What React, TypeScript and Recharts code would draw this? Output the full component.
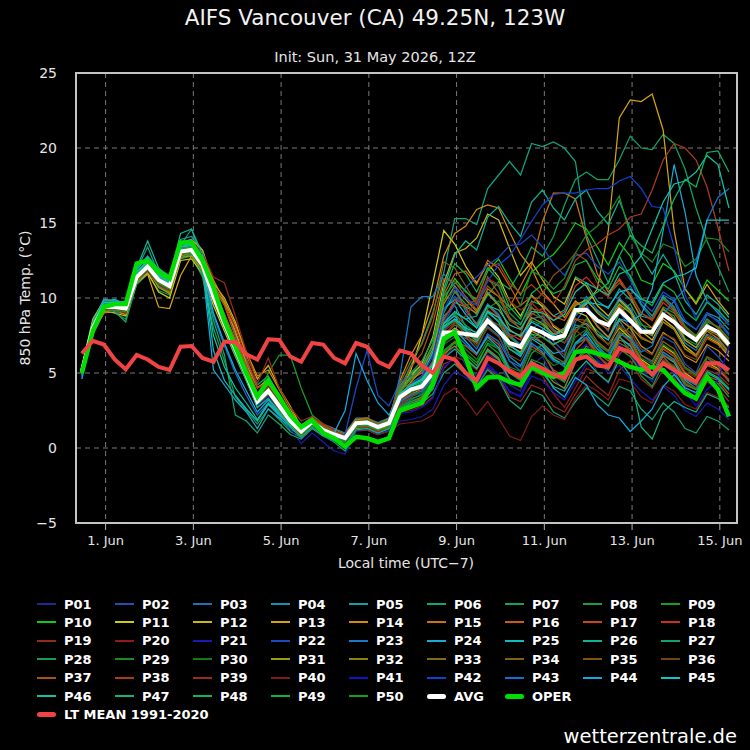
import React from "react";
import { LineChart, Line, XAxis, YAxis, CartesianGrid, ReferenceArea } from "recharts";

// first step is 31 May 11:00 local, then every 6 h (hours since 31 May 00:00 local)
const START_HOUR = 11;
const STEP_HOURS = 6;
const TICK_DAYS = [1, 3, 5, 7, 9, 11, 13, 15];
const Y_TICKS = [-5, 0, 5, 10, 15, 20, 25];

const AVG = [5.1,8.0,9.4,9.4,9.3,11.4,12.1,11.2,10.8,13.1, 13.2,12.2,10.1,8.3,6.6,4.9,3.1,3.8,2.8,1.8, 1.1,1.75,1.2,0.9,0.65,1.65,1.7,1.4,1.65,3.4, 3.9,4.1,5.0,7.7,7.7,7.6,7.5,8.5,7.8,7.0, 6.75,8.0,7.7,7.3,7.5,9.2,9.2,8.5,8.2,9.2, 8.5,7.75,7.75,8.9,8.4,7.7,7.2,8.1,7.75,6.9];
const OPER = [5.0,7.8,9.4,9.6,9.6,12.3,12.5,11.75,11.3,13.7, 13.7,12.5,10.7,8.5,6.75,5.0,3.4,4.5,3.4,2.2, 1.4,1.85,1.0,0.65,0.1,0.75,0.65,0.4,0.65,2.5, 2.75,3.0,4.3,7.3,7.7,6.0,4.0,4.7,4.75,4.4, 4.2,5.4,5.0,4.75,5.0,6.4,6.5,6.3,6.1,5.75, 5.4,5.2,5.4,5.2,4.4,3.65,3.3,4.75,3.9,2.1];
const LT_MEAN = [6.3,7.15,6.9,5.9,5.25,6.2,5.9,5.4,5.2,6.75, 6.8,6.0,5.75,7.1,7.05,6.25,5.9,7.25,7.2,6.1, 5.75,7.0,6.9,6.0,5.65,7.0,6.75,5.75,5.4,6.5, 6.3,5.5,5.0,6.1,5.9,5.0,4.5,6.0,5.65,5.1, 4.75,5.65,5.3,4.9,4.65,5.9,6.1,5.5,5.4,6.65, 6.4,5.65,4.9,5.65,5.2,4.75,4.4,5.65,5.65,5.2];

const P01 = [5.0,7.9,9.6,9.5,9.0,11.2,12.3,11.0,10.5,13.0, 13.4,12.0,9.8,8.0,6.2,4.5,2.8,3.5,2.6,1.5, 0.8,1.6,1.0,0.7,0.4,1.5,1.6,1.2,1.8,3.0, 3.5,3.9,4.6,6.0,6.8,5.5,4.8,6.2,5.9,4.2, 3.8,5.5,6.1,4.6,3.9,5.8,6.6,5.0,4.3,6.2, 7.0,5.1,4.4,6.3,5.8,4.1,3.6,5.2,4.9,3.8];
const P02 = [4.7,8.1,9.8,9.7,9.2,11.6,12.4,11.4,10.9,13.4, 13.6,12.5,10.4,8.6,6.9,5.0,3.3,3.9,3.0,2.0, 1.3,2.0,1.4,1.0,0.8,1.9,1.9,1.6,1.9,3.8, 4.6,5.1,6.5,9.2,10.1,9.4,8.1,9.6,8.8,7.0, 6.2,7.9,8.5,7.1,6.4,8.8,9.6,8.2,7.3,9.1, 8.0,6.2,5.7,7.4,7.0,5.6,5.0,6.8,6.1,5.2];
const P03 = [5.2,8.3,9.5,9.2,9.4,11.3,11.9,11.1,10.6,12.9, 13.0,11.8,8.8,6.8,5.0,3.5,2.2,3.0,2.1,1.2, 1.0,1.7,1.1,0.8,0.5,1.6,1.8,1.3,1.5,2.8, 3.2,3.6,4.4,7.9,8.6,7.4,6.6,8.1,7.5,5.8, 5.1,7.2,7.9,6.8,6.0,8.4,9.4,8.6,7.8,10.1, 10.8,9.5,8.6,10.2,9.8,8.1,7.4,8.9,8.5,7.6];
const P04 = [4.9,8.0,9.3,9.6,9.5,11.5,12.2,11.3,10.9,13.2, 13.3,12.4,10.6,8.9,7.1,5.4,3.6,4.2,3.2,2.2, 1.5,2.1,1.6,1.3,1.0,2.0,2.0,1.7,2.0,4.2, 5.0,5.5,6.8,8.8,9.5,8.1,7.2,8.8,8.0,6.1, 5.5,7.0,6.4,5.1,4.4,6.9,7.8,6.9,6.4,8.5, 7.4,5.8,5.0,6.4,5.9,4.6,4.2,6.0,5.5,4.4];
const P05 = [5.3,8.4,9.9,9.8,9.6,12.0,12.8,11.9,11.5,13.9, 14.1,13.2,10.8,9.7,7.6,5.8,4.2,4.8,3.5,2.3, 1.2,1.9,1.3,1.0,0.7,1.8,1.8,1.5,1.7,3.5, 4.0,4.3,5.3,8.4,9.0,8.6,8.8,10.4,9.6,8.6, 8.2,9.8,9.5,8.8,9.2,11.4,11.0,9.8,9.3,10.6, 9.9,8.8,8.6,10.0,9.2,8.4,7.9,9.0,8.7,7.9];
const P06 = [5.0,8.2,9.6,9.8,9.7,11.9,13.4,11.6,11.0,13.5, 14.6,12.6,10.3,8.5,6.7,5.0,3.2,3.9,2.9,1.9, 1.2,1.8,1.3,1.0,0.8,1.7,1.8,1.5,2.0,4.0, 5.5,7.0,9.0,11.7,15.3,15.3,14.9,17.3,18.2,19.1, 18.2,20.3,20.1,20.4,20.0,19.1,14.2,12.6,11.0,12.8, 11.4,9.6,8.8,10.1,9.4,8.0,7.4,8.6,8.0,7.1];
const P07 = [5.1,7.8,9.2,9.3,9.0,11.2,12.0,11.0,10.7,13.0, 13.1,12.0,9.9,8.1,6.4,4.8,3.0,3.7,2.7,1.7, 1.0,1.6,1.1,0.8,0.6,1.6,1.6,1.3,1.6,3.3, 4.1,4.6,5.8,9.0,10.4,9.6,8.9,10.2,11.1,10.6, 11.8,13.4,12.8,14.1,16.2,17.9,18.4,17.9,17.9,19.2, 20.8,20.0,19.9,20.9,20.3,18.6,16.0,13.8,12.1,10.4];
const P08 = [4.8,7.7,9.1,9.0,8.6,10.9,11.6,10.5,10.2,12.6, 12.8,11.4,8.0,5.8,3.4,2.5,1.6,2.6,1.9,1.1, 0.7,1.3,0.8,0.5,0.3,1.3,1.4,1.0,1.3,2.9, 3.3,3.5,4.2,6.5,7.1,6.2,5.5,7.0,6.6,5.0, 4.6,6.3,6.9,6.0,5.4,7.7,8.6,7.8,7.2,9.0, 9.6,8.3,7.5,9.2,8.8,7.3,6.9,8.3,7.6,6.8];
const P09 = [5.1,8.1,9.5,9.4,9.3,11.6,12.2,11.3,10.9,13.3, 13.4,12.3,10.5,8.9,7.0,5.2,3.5,5.0,6.2,6.2, 4.0,2.2,1.6,1.2,0.9,1.9,2.0,1.6,1.9,3.9, 4.3,4.5,5.6,8.1,8.9,8.2,7.6,9.0,8.5,7.4, 6.8,8.5,8.2,7.6,7.9,9.6,9.8,9.1,8.6,9.8, 9.1,8.2,8.0,9.4,9.0,8.1,7.5,8.4,8.1,7.3];
const P10 = [5.0,7.9,9.3,9.5,9.4,11.8,12.4,11.5,11.1,13.5, 13.6,12.4,10.2,8.4,6.6,4.9,3.2,3.9,2.9,1.9, 1.3,1.9,1.3,1.0,0.7,1.7,1.7,1.4,1.7,3.6, 4.1,4.4,5.5,9.8,11.3,10.4,9.9,11.8,12.6,11.3, 10.2,11.7,12.4,12.9,13.8,15.0,14.6,13.4,12.2,13.7, 12.8,11.2,10.9,12.3,11.8,10.6,9.7,11.2,10.5,9.8];
const P11 = [4.9,8.0,9.2,9.0,8.8,11.0,11.7,10.4,10.0,12.5, 12.6,11.6,9.5,7.8,6.1,4.5,2.8,3.4,2.4,1.5, 0.8,1.5,0.9,0.6,0.4,1.4,1.5,1.1,1.4,3.6, 5.2,7.5,11.0,14.5,13.6,12.1,11.0,12.3,11.4,9.8, 8.8,10.2,9.4,8.1,7.6,9.1,8.8,7.6,6.9,8.0, 7.3,5.9,5.4,6.8,6.3,5.0,4.5,5.7,5.3,4.5];
const P12 = [5.4,8.6,9.8,9.7,9.5,11.7,12.5,11.6,11.2,13.7, 13.9,13.2,11.0,10.0,8.4,6.2,4.6,5.5,4.0,2.8, 1.4,2.0,1.5,1.2,0.9,1.9,1.9,1.6,1.8,3.7, 4.8,5.6,7.4,11.0,13.0,13.3,14.0,15.6,15.2,13.3, 11.5,12.4,11.2,10.1,9.6,11.3,10.8,9.5,8.8,9.9, 9.2,7.8,7.2,8.6,8.0,6.8,6.2,7.4,7.0,6.1];
const P13 = [5.0,7.6,9.0,9.1,8.9,11.0,11.6,9.4,9.3,11.5, 12.8,12.3,10.9,9.6,7.8,5.6,4.0,4.6,3.4,2.2, 1.1,1.7,1.2,0.9,0.6,1.6,1.6,1.3,1.5,3.1, 3.6,3.9,4.8,7.4,8.0,7.5,7.0,8.3,7.9,6.8, 6.4,7.8,7.4,6.9,7.3,9.0,9.6,10.6,14.5,22.0, 23.2,23.1,23.6,21.2,14.5,10.6,9.6,10.9,9.8,8.9];
const P14 = [5.2,8.2,9.4,9.3,9.1,11.3,12.0,11.2,10.6,13.0, 13.1,12.8,11.2,9.8,8.2,6.4,4.8,5.2,3.9,2.6, 1.3,1.9,1.4,1.1,0.9,1.8,1.9,1.6,1.9,4.5, 6.2,7.5,9.6,12.8,14.3,14.8,15.9,16.2,16.0,14.4, 12.9,12.0,10.4,9.6,8.7,9.8,9.2,8.1,7.4,8.6, 8.0,6.8,6.3,7.7,7.2,6.1,5.7,6.9,6.5,5.8];
const P15 = [4.8,7.7,9.0,9.2,9.1,11.2,11.8,10.9,10.6,13.0, 13.2,12.0,10.2,8.4,6.5,4.8,3.0,3.7,2.7,1.7, 1.0,1.6,1.1,0.8,0.5,1.5,1.6,1.3,1.6,3.2, 3.8,4.2,5.2,8.6,9.7,9.4,9.0,10.6,10.1,9.4, 10.8,12.2,15.1,17.0,17.0,16.6,14.0,11.6,10.4,11.2, 10.1,8.6,8.0,9.3,8.6,7.2,6.7,7.8,7.3,6.4];
const P16 = [5.1,8.0,9.4,9.3,9.2,11.4,12.0,11.1,10.8,13.2, 13.3,12.2,10.6,8.9,7.2,5.5,3.6,4.2,3.2,2.1, 1.4,2.0,1.5,1.2,0.9,1.9,2.0,1.6,1.8,3.9, 4.6,5.0,6.3,10.2,11.6,11.8,10.9,12.5,12.0,10.8, 9.5,10.1,9.6,8.8,8.5,9.7,9.3,8.4,7.9,9.5, 8.6,7.4,7.0,8.4,7.9,6.6,6.1,7.3,6.9,6.3];
const P17 = [5.0,7.8,9.1,9.2,9.3,11.2,11.8,10.8,10.4,12.8, 12.9,11.9,9.8,8.0,6.3,4.6,2.8,3.4,2.5,1.4, 0.8,1.4,0.9,0.6,0.3,1.3,1.4,1.1,1.4,2.6, 2.9,3.3,4.0,6.1,7.1,6.8,6.2,7.5,6.9,5.3, 4.9,6.8,6.3,5.2,4.8,6.5,7.3,6.2,5.4,7.2, 6.9,5.6,4.9,6.1,5.3,4.2,3.9,4.8,4.5,3.6];
const P18 = [5.2,8.1,9.5,9.6,9.4,11.6,12.3,11.4,10.9,13.2, 13.4,12.5,10.9,9.5,8.0,6.0,4.0,4.4,3.3,2.3, 1.5,2.0,1.5,1.1,0.8,1.7,1.8,1.4,1.7,3.1, 3.8,4.0,4.9,7.2,8.4,7.9,7.3,9.2,8.7,7.6, 7.2,8.9,9.3,8.5,9.1,10.8,11.4,10.6,10.1,11.3, 10.2,9.0,8.5,9.7,9.1,7.8,7.2,8.2,7.7,7.0];
const P19 = [5.0,7.9,9.3,9.4,9.3,11.3,12.0,11.3,10.9,13.4, 13.8,13.0,11.4,11.0,8.8,6.4,4.3,6.0,4.0,2.7, 1.8,2.1,1.6,1.2,0.8,1.6,1.5,1.1,1.2,2.3, 2.9,3.4,4.0,5.6,5.9,5.1,4.2,5.3,4.8,3.4, 3.1,4.2,3.9,2.8,2.4,3.6,4.8,4.1,3.5,5.2, 5.8,4.6,4.0,5.2,4.7,3.6,3.2,4.4,4.0,3.1];
const P20 = [5.1,8.0,9.4,9.3,9.2,11.4,12.1,11.2,10.8,13.1, 13.2,12.3,10.6,8.8,7.0,5.3,3.5,4.1,3.1,2.0, 1.3,1.8,1.3,1.0,0.7,1.7,1.7,1.3,1.5,2.4, 2.5,2.8,3.4,5.3,6.1,5.8,5.2,6.4,5.9,4.6, 4.0,5.2,4.8,3.6,2.7,4.0,5.3,5.0,4.4,6.3, 6.9,5.8,5.3,6.7,6.2,5.1,4.7,5.8,5.4,4.6];
const P21 = [4.6,7.8,9.2,9.1,9.0,11.1,11.8,10.9,10.5,12.9, 13.0,12.0,9.9,8.1,6.3,4.5,2.7,3.3,2.3,1.3, 0.3,1.0,0.4,-0.2,-0.4,1.1,1.2,0.9,1.1,1.8, 1.9,2.1,2.6,4.2,5.1,4.7,4.2,5.4,4.9,3.8, 3.4,4.8,4.5,3.7,3.2,4.4,5.6,5.8,5.0,5.5, 4.6,3.8,3.2,4.1,3.5,2.5,2.1,3.0,2.6,1.9];
const P22 = [5.0,8.1,9.6,9.5,9.4,11.5,12.2,11.3,10.9,13.2, 13.3,12.3,10.2,8.4,6.7,5.0,3.2,3.9,2.9,1.9, 1.2,1.8,1.3,1.0,0.9,4.0,6.5,3.5,2.8,4.4, 4.8,5.1,6.2,8.3,9.6,10.7,11.4,12.2,12.7,13.5, 13.6,14.2,13.4,12.3,11.5,12.8,13.0,12.1,11.6,12.4, 11.2,9.8,9.1,10.4,9.9,8.5,7.9,9.0,8.4,7.5];
const P23 = [5.2,8.3,9.7,9.6,9.5,11.7,12.4,11.5,11.0,13.4, 13.5,12.4,10.1,8.2,6.3,4.6,2.9,3.5,2.6,1.6, 0.9,1.5,1.0,0.7,0.5,1.5,1.5,1.2,1.5,4.8, 9.4,10.1,10.1,11.6,10.8,9.1,8.3,9.6,8.9,7.5, 6.9,8.6,8.8,7.9,7.4,9.0,10.1,9.2,8.6,10.0, 9.3,8.0,7.6,8.9,8.3,7.0,6.5,7.6,7.2,6.4];
const P24 = [4.9,8.0,9.5,9.6,9.5,11.6,12.5,11.6,11.1,13.6, 13.9,12.0,5.2,4.2,3.2,2.4,1.3,2.6,2.0,1.4, 1.2,1.8,1.3,1.0,0.7,1.7,1.8,1.5,1.8,3.5, 4.1,4.6,5.7,8.3,8.8,7.9,7.1,8.4,7.8,6.6, 6.1,7.4,7.0,6.3,6.5,8.0,8.3,7.6,7.2,8.6, 8.4,8.9,10.6,14.5,18.9,15.7,11.5,9.8,9.0,8.2];
const P25 = [5.3,8.4,9.8,9.9,9.6,11.9,12.7,11.7,11.2,13.6, 13.7,12.2,6.5,4.5,3.5,2.6,1.8,2.9,2.2,1.5, 1.1,1.7,1.2,0.9,0.6,1.6,1.7,1.4,1.7,3.2, 3.9,4.3,5.6,9.3,9.9,8.9,8.0,9.1,8.4,6.9, 6.3,7.3,6.8,5.9,5.6,7.0,7.6,6.6,6.0,7.4, 6.8,5.4,4.8,6.2,5.7,4.5,4.0,5.1,4.7,3.9];
const P26 = [5.0,8.2,9.7,9.7,9.8,12.0,13.8,12.0,11.4,14.3, 14.6,12.9,10.6,8.7,6.8,5.1,3.3,4.0,3.0,1.9, 1.2,1.9,1.3,1.0,0.7,1.8,1.8,1.5,1.8,3.6, 4.3,4.8,6.4,10.6,12.9,13.8,13.2,15.4,16.1,15.0, 14.1,16.4,17.2,16.0,15.2,16.6,17.2,15.8,14.9,16.5, 14.6,12.8,11.6,12.9,11.7,9.8,8.9,10.2,9.6,8.7];
const P27 = [4.8,7.8,9.3,9.1,8.4,11.0,11.8,10.8,10.3,12.7, 12.9,11.6,8.5,6.2,2.2,1.8,1.0,2.2,1.6,0.9, 0.6,1.3,0.8,0.4,-0.2,1.2,1.2,0.9,1.2,2.4, 2.8,3.0,3.6,5.0,5.6,4.9,4.1,5.2,4.6,3.2, 2.6,3.8,3.5,2.4,2.0,3.1,4.0,3.4,2.8,4.1, 3.8,2.6,1.9,3.0,2.4,1.3,1.0,2.1,1.8,1.2];
const P28 = [5.1,8.0,9.5,9.5,9.3,11.5,12.2,11.3,10.8,13.1, 13.2,12.1,10.0,8.2,6.5,4.8,3.0,3.7,2.8,1.8, 1.1,1.7,1.2,0.9,0.6,1.6,1.7,1.4,1.7,3.9, 5.0,5.8,7.2,10.1,11.0,10.5,9.6,11.2,10.8,9.0, 8.3,9.4,8.6,7.4,7.0,8.2,8.0,6.8,6.1,7.5, 6.4,4.8,4.1,5.6,5.1,3.9,3.4,4.7,4.3,3.4];
const P29 = [5.2,8.3,9.8,9.7,9.6,11.8,12.4,11.5,11.0,13.3, 13.5,12.3,10.2,8.3,6.5,4.9,3.2,3.8,2.9,1.9, 1.3,1.9,1.4,1.0,0.8,1.8,1.9,1.5,1.7,3.3, 3.7,4.0,4.9,7.6,8.2,7.8,7.6,9.3,9.8,9.2, 9.5,11.8,11.4,10.6,11.3,13.0,14.2,14.8,15.6,16.8, 14.2,13.0,12.4,13.6,13.3,12.1,12.6,14.0,13.9,13.1];
const P30 = [5.0,7.9,9.2,9.3,9.2,11.3,11.9,11.0,10.6,12.9, 13.0,12.1,10.0,8.2,6.4,4.7,2.9,3.6,2.6,1.6, 0.9,1.6,1.1,0.8,0.5,1.5,1.5,1.2,1.5,3.0, 3.4,3.7,4.5,6.9,7.4,6.6,5.9,7.2,6.6,5.4, 5.1,6.6,6.2,5.5,5.8,7.4,7.9,7.0,6.4,7.8, 7.2,6.0,5.6,6.9,6.4,5.3,4.8,6.0,5.6,4.9];
const P31 = [4.9,7.9,9.1,9.2,8.9,11.1,11.9,10.7,10.3,12.7, 12.8,11.8,9.8,8.1,6.3,4.6,2.8,3.4,2.5,1.5, 0.8,1.5,1.0,0.7,0.4,1.4,1.5,1.2,1.5,3.4, 4.4,5.2,6.6,9.6,10.8,9.9,9.1,10.3,9.5,7.9, 7.4,8.7,8.3,7.6,8.0,9.5,9.9,9.0,8.4,9.6, 9.0,7.8,7.5,8.9,8.4,7.2,6.7,7.9,7.5,6.7];
const P32 = [5.1,8.1,9.4,9.4,9.0,11.4,12.0,11.0,10.4,12.8, 13.0,12.0,9.9,8.0,6.2,4.5,2.7,3.4,2.4,1.4, 0.7,1.4,0.9,0.6,0.3,1.3,1.3,1.0,1.3,2.7, 3.1,3.4,4.1,6.3,6.8,6.0,5.3,6.6,6.0,4.5, 4.1,5.6,5.3,4.4,4.0,5.7,6.8,6.2,5.5,7.4, 8.1,7.3,7.0,8.4,7.9,6.6,6.2,7.5,7.1,6.4];
const P33 = [5.0,8.0,9.4,9.4,9.3,11.4,12.1,11.2,10.8,13.1, 13.2,12.2,10.1,8.3,6.6,4.9,3.1,3.8,2.8,1.8, 1.1,1.8,1.2,0.9,0.6,1.7,1.7,1.4,1.7,3.7, 4.6,5.3,6.9,9.9,10.5,9.3,8.2,9.5,8.8,7.1, 6.6,7.6,7.0,6.1,5.7,6.9,7.3,6.4,5.8,7.0, 6.6,5.3,4.9,6.2,5.8,4.7,4.3,5.5,5.2,4.5];
const P34 = [5.2,8.2,9.5,9.5,9.4,11.6,12.3,11.4,10.9,13.2, 13.3,12.3,10.3,8.5,6.8,5.1,3.3,4.0,3.0,2.0, 1.3,1.9,1.4,1.1,0.8,1.8,1.9,1.6,1.9,4.3, 5.8,6.9,8.8,12.4,12.0,10.8,9.6,10.8,10.1,8.5, 8.0,9.0,8.6,7.8,7.5,8.6,8.5,7.5,6.9,8.1, 7.5,6.2,5.8,7.1,6.6,5.4,4.9,6.1,5.7,4.9];
const P35 = [4.9,7.9,9.3,9.3,9.1,11.3,12.0,11.1,10.7,13.0, 13.1,12.1,10.0,8.3,6.6,4.9,3.1,3.7,2.7,1.7, 1.0,1.6,1.1,0.8,0.5,1.5,1.6,1.3,1.5,3.1, 3.6,3.8,4.6,7.0,7.7,7.3,7.0,8.6,8.2,7.4, 7.6,9.6,10.3,11.5,12.1,13.0,12.5,11.0,10.2,11.0, 10.3,9.0,8.6,9.9,9.3,8.0,7.4,8.5,8.0,7.2];
const P36 = [5.1,8.0,9.4,9.4,9.2,11.5,12.2,11.2,10.8,13.2, 13.4,12.3,10.2,8.4,6.6,4.9,3.1,3.7,2.8,1.8, 1.1,1.7,1.2,0.9,0.6,1.6,1.7,1.4,1.6,3.2, 3.8,4.1,5.1,7.8,8.4,7.6,6.8,8.0,7.4,6.2, 5.8,7.3,7.4,6.8,6.2,7.8,8.5,7.5,6.9,8.2, 7.7,6.6,6.2,7.6,7.3,6.2,5.9,7.4,7.8,8.6];
const P37 = [5.0,8.0,9.3,9.2,9.0,11.2,11.9,11.0,10.6,12.9, 13.1,12.6,10.7,9.5,7.4,5.5,3.6,4.4,3.2,2.1, 1.1,1.7,1.2,0.9,0.6,1.6,1.6,1.3,1.6,3.8, 5.4,6.3,8.3,11.3,11.1,10.1,9.2,11.4,10.3,8.7, 7.9,9.3,9.1,8.2,7.7,8.6,8.2,7.1,6.5,7.7, 7.1,5.8,5.3,6.6,6.1,4.9,4.4,5.6,5.2,4.5];
const P38 = [5.2,8.1,9.5,9.6,9.4,11.6,12.3,11.4,10.9,13.3, 13.5,12.4,10.4,8.5,6.7,5.0,3.2,3.9,2.9,1.9, 1.2,1.8,1.3,1.0,0.7,1.7,1.8,1.5,1.8,3.5, 4.3,4.7,5.8,8.5,9.9,9.5,9.9,12.0,12.3,11.0, 10.3,10.9,10.2,9.6,10.8,12.5,13.2,13.6,14.2,14.6, 15.4,15.6,17.2,19.2,20.3,20.0,19.2,17.4,14.7,11.8];
const P39 = [4.8,7.8,9.2,9.2,9.0,11.2,11.8,10.9,10.5,12.9, 13.1,12.1,10.2,8.4,6.6,4.8,3.0,3.6,2.6,1.6, 0.9,1.5,1.0,0.7,0.4,1.4,1.4,1.1,1.4,2.9, 3.4,3.9,4.8,7.5,8.3,8.8,9.8,11.3,10.9,9.8, 9.2,9.7,8.9,7.8,7.0,7.9,7.2,6.1,5.6,6.8, 6.3,5.0,4.6,5.9,5.5,4.4,4.0,5.2,4.9,4.2];
const P40 = [5.0,7.9,9.3,9.3,9.1,11.3,12.0,11.1,10.7,13.0, 13.1,12.1,10.0,8.2,6.4,4.7,2.9,3.5,2.6,1.6, 0.9,1.5,1.0,0.7,0.3,1.2,1.2,0.9,1.1,1.6, 1.7,1.8,2.2,3.5,4.0,3.2,2.2,3.1,2.0,0.8, 0.5,2.1,2.8,2.2,1.9,3.3,4.2,3.8,3.2,4.6, 4.4,3.4,3.0,4.2,3.8,2.9,2.6,3.7,3.4,2.8];
const P41 = [4.7,7.9,9.4,9.3,9.2,11.5,12.1,11.2,10.7,13.1, 13.3,12.2,10.0,8.1,6.3,4.6,2.8,3.4,2.4,1.4, 0.7,1.4,0.8,0.5,0.2,1.2,1.3,1.0,1.2,2.3, 2.4,2.7,3.3,5.4,6.0,5.1,4.3,5.6,4.9,3.7, 3.5,5.1,5.6,4.9,4.6,6.3,6.9,5.9,5.3,6.9, 6.3,5.2,4.5,5.6,5.0,3.7,2.8,3.9,4.5,6.8];
const P42 = [5.1,8.2,9.6,9.5,9.4,11.6,12.3,11.3,10.9,13.3, 13.4,12.3,10.2,8.4,6.6,4.9,3.1,3.8,2.8,1.8, 1.1,1.7,1.2,0.9,0.6,1.7,1.7,1.4,1.7,3.4, 4.2,4.8,6.1,9.2,10.7,10.0,9.5,11.1,12.2,12.8, 13.9,15.1,16.2,16.9,17.0,17.0,17.2,17.3,17.3,17.8, 18.1,17.3,16.1,16.0,13.4,10.2,8.6,9.8,9.1,8.2];
const P43 = [5.0,8.0,9.5,9.4,9.3,11.4,12.1,11.2,10.8,13.1, 13.2,12.2,10.1,8.3,6.5,4.8,3.0,3.7,2.7,1.7, 1.0,1.6,1.1,0.8,0.5,1.5,1.6,1.3,1.6,3.1, 3.5,3.8,4.7,7.1,7.6,6.9,6.3,7.6,7.1,5.8, 5.4,6.9,6.6,5.8,5.5,6.9,7.4,6.6,6.2,7.6, 7.3,6.4,6.8,8.9,9.8,10.6,12.4,15.2,16.7,17.3];
const P44 = [4.6,8.2,9.9,9.8,9.7,11.8,12.4,11.5,11.1,13.5, 13.6,12.2,9.0,7.0,5.2,3.8,2.4,3.2,2.3,1.5, 1.1,1.7,1.2,1.0,2.5,6.3,4.5,3.0,2.2,3.5, 4.0,4.2,5.0,7.3,7.9,7.1,6.3,7.4,6.7,5.2, 4.6,5.8,5.2,4.0,3.4,4.7,4.2,2.9,2.2,2.0, 1.1,1.8,2.6,4.1,4.9,4.0,3.7,5.0,4.6,3.9];
const P45 = [5.3,8.3,9.7,9.7,9.5,11.7,12.4,11.5,11.0,13.4, 13.5,12.4,10.4,8.6,6.8,5.1,3.3,3.9,2.9,1.9, 1.2,1.8,1.3,1.0,0.7,1.7,1.7,1.4,1.7,3.6, 4.2,4.5,5.6,8.1,8.6,8.0,7.7,9.1,8.7,7.8, 7.5,8.4,8.0,7.5,7.9,9.1,9.7,9.6,9.4,10.4, 10.6,9.9,9.7,11.0,11.4,11.6,12.0,15.2,15.2,15.2];
const P46 = [5.0,8.1,9.5,9.6,9.5,11.7,12.5,11.5,11.0,13.4, 13.6,12.0,7.5,5.4,4.0,3.0,1.9,3.0,2.3,1.5, 1.2,1.8,1.3,1.0,0.7,1.7,1.8,1.5,1.8,3.6, 4.2,4.6,5.6,8.3,9.1,8.6,8.0,9.5,9.2,8.2, 7.9,9.1,9.0,8.5,8.9,10.4,11.0,10.6,10.2,11.6, 11.9,12.8,14.6,16.4,17.6,17.8,18.4,19.5,18.9,16.0];
const P47 = [4.9,7.9,9.3,9.4,9.3,11.5,12.2,11.2,10.8,13.1, 13.2,12.1,9.9,8.0,6.2,4.5,2.7,3.3,2.4,1.4, 0.7,1.4,0.8,0.5,0.2,1.2,1.3,1.0,1.3,2.6, 3.0,3.2,3.9,6.0,6.6,5.9,5.3,6.5,5.9,4.6, 4.2,5.4,5.0,4.1,3.8,5.0,5.8,5.0,4.4,5.9, 4.8,1.4,0.6,2.4,3.1,2.7,2.4,3.6,3.3,2.7];
const P48 = [5.1,8.0,9.4,9.5,9.4,11.5,12.2,11.3,10.9,13.2, 13.3,12.3,10.2,8.4,6.6,4.9,3.1,3.8,2.8,1.8, 1.1,1.7,1.2,0.9,0.6,1.6,1.7,1.4,1.7,3.4, 3.9,4.3,5.3,8.0,8.5,7.8,7.1,8.4,7.8,6.6, 6.2,7.6,7.4,6.9,7.3,8.9,9.9,10.4,11.0,12.8, 14.2,13.5,13.0,14.8,16.6,17.9,17.4,19.7,19.8,18.4];
const P49 = [5.2,8.2,9.6,9.6,9.5,11.6,12.3,11.4,10.9,13.3, 13.4,12.4,10.3,8.5,6.7,5.0,3.2,3.9,2.9,1.9, 1.2,1.8,1.3,1.0,0.7,1.7,1.8,1.4,1.7,3.8, 4.7,5.4,6.9,10.4,12.3,11.6,10.4,12.0,11.2,9.4, 8.6,10.3,10.9,10.3,10.6,12.2,12.5,11.3,10.6,12.1, 11.5,10.0,9.5,10.9,10.4,9.1,8.5,9.7,9.2,8.4];
const P50 = [4.9,7.8,9.2,9.2,9.1,11.3,11.9,11.0,10.6,12.9, 13.0,12.0,9.9,8.1,6.4,4.7,2.9,3.6,2.6,1.6, 0.9,1.5,1.0,0.7,0.4,1.4,1.5,1.2,1.4,2.7, 3.1,3.3,4.0,6.4,7.0,6.3,5.7,6.9,6.3,5.0, 4.5,5.9,5.6,4.8,4.4,5.9,6.4,5.7,5.2,6.6, 6.1,5.0,4.6,5.8,5.4,4.3,3.9,5.0,4.7,4.0];

const MEMBERS: Array<[string, number[], string]> = [
  ["P01", P01, "#1c2a8e"], ["P02", P02, "#1f4fb2"], ["P03", P03, "#1f6fba"], ["P04", P04, "#1a90b2"],
  ["P05", P05, "#10a2a2"], ["P06", P06, "#10a482"], ["P07", P07, "#10a262"], ["P08", P08, "#1a9c42"],
  ["P09", P09, "#1a9c22"], ["P10", P10, "#12cc12"], ["P11", P11, "#cccc12"], ["P12", P12, "#ccb612"],
  ["P13", P13, "#d4a212"], ["P14", P14, "#d48a12"], ["P15", P15, "#cc7212"], ["P16", P16, "#cc5c12"],
  ["P17", P17, "#cc4612"], ["P18", P18, "#cc321a"], ["P19", P19, "#922c1a"], ["P20", P20, "#921a1a"],
  ["P21", P21, "#1a1ab2"], ["P22", P22, "#1a4ac2"], ["P23", P23, "#1a7aca"], ["P24", P24, "#1aaad2"],
  ["P25", P25, "#12bac2"], ["P26", P26, "#12b292"], ["P27", P27, "#12a272"], ["P28", P28, "#1a9a4a"],
  ["P29", P29, "#1a8c22"], ["P30", P30, "#127c12"], ["P31", P31, "#9c9c12"], ["P32", P32, "#8c8212"],
  ["P33", P33, "#826c12"], ["P34", P34, "#826212"], ["P35", P35, "#825212"], ["P36", P36, "#724212"],
  ["P37", P37, "#aa521a"], ["P38", P38, "#aa3c1a"], ["P39", P39, "#9a2a1a"], ["P40", P40, "#821a1a"],
  ["P41", P41, "#1212ca"], ["P42", P42, "#1242d2"], ["P43", P43, "#1272d2"], ["P44", P44, "#12aae2"],
  ["P45", P45, "#12c2ca"], ["P46", P46, "#12c2a2"], ["P47", P47, "#12b282"], ["P48", P48, "#12b262"],
  ["P49", P49, "#12b242"], ["P50", P50, "#12a21a"],
];

const AVG_COLOR = "#ffffff";
const OPER_COLOR = "#00dd00";
const LT_COLOR = "#f04444";
const TEXT = "#e6e6e6";
const FONT = "'DejaVu Sans', sans-serif";

const rows = AVG.map((v, i) => {
  const row: Record<string, number> = {
    h: START_HOUR + i * STEP_HOURS,
    AVG: v,
    OPER: OPER[i],
    LT: LT_MEAN[i],
  };
  MEMBERS.forEach(([name, vals]) => {
    row[name] = vals[i];
  });
  return row;
});

const X_DOMAIN = [7.8, 369.4];

const legendItems = [
  ...MEMBERS.map(([name, , color]) => ({ name, color, thick: false })),
  { name: "AVG", color: AVG_COLOR, thick: true },
  { name: "OPER", color: OPER_COLOR, thick: true },
];

function Legend() {
  return (
    <>
      {legendItems.map((it, i) => {
        const col = i % 9;
        const row = Math.floor(i / 9);
        return <LegendItem key={it.name} {...it} x={37 + col * 78} y={604 + row * 18.4} />;
      })}
      <LegendItem name="LT MEAN 1991-2020" color={LT_COLOR} thick x={37} y={604 + 6 * 18.4} />
    </>
  );
}

function LegendItem({ name, color, thick, x, y }: { name: string; color: string; thick: boolean; x: number; y: number }) {
  return (
    <div
      style={{
        position: "absolute",
        left: x,
        top: y - 9,
        height: 18,
        display: "flex",
        alignItems: "center",
        whiteSpace: "nowrap",
      }}
    >
      <span
        style={{
          display: "inline-block",
          width: 19,
          height: thick ? 5 : 2,
          borderRadius: thick ? 3 : 0,
          background: color,
          marginRight: 8,
        }}
      />
      <span style={{ color: "#fff", fontWeight: "bold", fontSize: 13 }}>{name}</span>
    </div>
  );
}

export default function App() {
  return (
    <div style={{ position: "relative", width: 750, height: 750, background: "#000", fontFamily: FONT, overflow: "hidden" }}>
      <style>{"body{margin:0;background:#000}"}</style>
      <LineChart width={750} height={750} data={rows} margin={{ top: 73, right: 13, bottom: 197, left: 0 }}>
        <CartesianGrid stroke="#7a7a7a" strokeDasharray="5 4" strokeWidth={1} />
        <XAxis
          dataKey="h"
          type="number"
          domain={X_DOMAIN}
          allowDataOverflow
          ticks={TICK_DAYS.map((d) => d * 24)}
          tickFormatter={(v) => `${v / 24}. Jun`}
          tick={{ fill: TEXT, fontSize: 13, fontFamily: FONT }}
          tickLine={{ stroke: "#a8b8c8" }}
          tickSize={7}
          tickMargin={6}
          axisLine={false}
          height={30}
        />
        <YAxis
          type="number"
          domain={[-5, 25]}
          ticks={Y_TICKS}
          tickFormatter={(v) => (v < 0 ? `\u2212${-v}` : `${v}`)}
          tick={{ fill: TEXT, fontSize: 14, fontFamily: FONT }}
          tickLine={false}
          axisLine={false}
          tickSize={6}
          tickMargin={13}
          width={76}
        />
        <ReferenceArea
          x1={X_DOMAIN[0]}
          x2={X_DOMAIN[1]}
          y1={-5}
          y2={25}
          fill="none"
          stroke="#c4c4c4"
          strokeWidth={2}
          ifOverflow="visible"
        />
        {MEMBERS.map(([name, , color]) => (
          <Line
            key={name}
            dataKey={name}
            type="linear"
            stroke={color}
            strokeWidth={1.25}
            dot={false}
            activeDot={false}
            isAnimationActive={false}
          />
        ))}
        <Line dataKey="AVG" type="linear" stroke={AVG_COLOR} strokeWidth={4} dot={false} isAnimationActive={false} />
        <Line dataKey="OPER" type="linear" stroke={OPER_COLOR} strokeWidth={4.5} dot={false} isAnimationActive={false} />
        <Line dataKey="LT" type="linear" stroke={LT_COLOR} strokeWidth={4} dot={false} isAnimationActive={false} />
      </LineChart>

      <div style={{ position: "absolute", left: 0, top: 5, width: 750, textAlign: "center", color: "#f2f2f2", fontSize: 21.5, lineHeight: "26px" }}>
        AIFS Vancouver (CA) 49.25N, 123W
      </div>
      <div style={{ position: "absolute", left: 0, top: 47, width: 750, textAlign: "center", color: TEXT, fontSize: 14.5, lineHeight: "20px" }}>
        Init: Sun, 31 May 2026, 12Z
      </div>
      <div
        style={{
          position: "absolute",
          left: 25 - 100,
          top: 298 - 10,
          width: 200,
          height: 20,
          lineHeight: "20px",
          textAlign: "center",
          color: TEXT,
          fontSize: 14,
          transform: "rotate(-90deg)",
        }}
      >
        850 hPa Temp. (°C)
      </div>
      <div style={{ position: "absolute", left: 306, top: 553, width: 200, textAlign: "center", color: TEXT, fontSize: 14, lineHeight: "20px" }}>
        Local time (UTC{"\u2212"}7)
      </div>
      <Legend />
      <div style={{ position: "absolute", right: 13, top: 724, color: "#fff", fontSize: 19.5, lineHeight: "26px" }}>
        wetterzentrale.de
      </div>
    </div>
  );
}
